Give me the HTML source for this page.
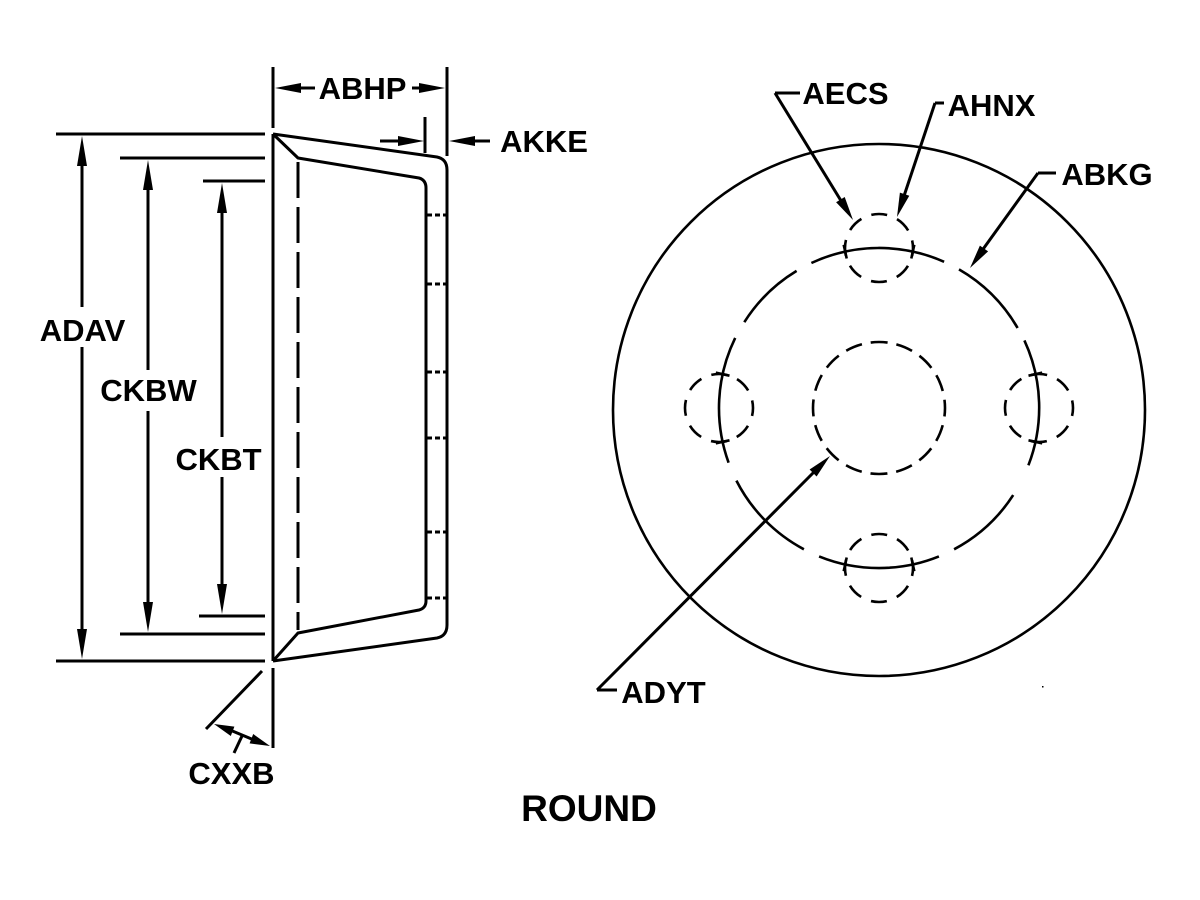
<!DOCTYPE html>
<html>
<head>
<meta charset="utf-8">
<style>
html,body{margin:0;padding:0;background:#fff;}
svg{display:block;}
text{font-family:"Liberation Sans",Arial,sans-serif;font-weight:bold;fill:#000;}
</style>
</head>
<body>
<svg width="1200" height="900" viewBox="0 0 1200 900" xmlns="http://www.w3.org/2000/svg">
<rect width="1200" height="900" fill="#fff"/>

<!-- ============ LEFT VIEW ============ -->
<g stroke="#000" stroke-width="3" fill="none" stroke-linejoin="round">
  <line x1="56" y1="134" x2="265" y2="134"/>
  <line x1="56" y1="661" x2="265" y2="661"/>
  <line x1="120" y1="158" x2="265" y2="158"/>
  <line x1="120" y1="634" x2="265" y2="634"/>
  <line x1="203" y1="181" x2="265" y2="181"/>
  <line x1="199" y1="616" x2="265" y2="616"/>

  <line x1="82" y1="160" x2="82" y2="307"/>
  <line x1="82" y1="347" x2="82" y2="635"/>
  <line x1="148" y1="184" x2="148" y2="370"/>
  <line x1="148" y1="411" x2="148" y2="608"/>
  <line x1="222" y1="207" x2="222" y2="437"/>
  <line x1="222" y1="477" x2="222" y2="590"/>

  <line x1="273" y1="67" x2="273" y2="128"/>
  <line x1="273" y1="668" x2="273" y2="748"/>
  <line x1="447" y1="67" x2="447" y2="156"/>
  <line x1="425" y1="117" x2="425" y2="153"/>

  <path d="M273,134 L273,661 M273,134 L437,157 Q447,159 447,170 L447,625 Q447,636 437,638 L273,661"/>
  <path d="M273,134 L298,158 L419,178 Q426,180 426,188 L426,601 Q426,608 419,610 L298,633 L273,661"/>
  <line x1="298" y1="162" x2="298" y2="630" stroke-dasharray="36 9"/>
  <g stroke-dasharray="5 3">
    <line x1="427" y1="215" x2="447" y2="215"/>
    <line x1="427" y1="284" x2="447" y2="284"/>
    <line x1="427" y1="372" x2="447" y2="372"/>
    <line x1="427" y1="438" x2="447" y2="438"/>
    <line x1="427" y1="532" x2="447" y2="532"/>
    <line x1="427" y1="598" x2="447" y2="598"/>
  </g>

  <line x1="290" y1="88" x2="315" y2="88"/>
  <line x1="412" y1="88" x2="430" y2="88"/>
  <line x1="380" y1="141" x2="410" y2="141"/>
  <line x1="462" y1="141" x2="490" y2="141"/>

  <line x1="262" y1="671" x2="206" y2="729"/>
  <line x1="230" y1="730" x2="254" y2="740"/>
  <line x1="242" y1="736" x2="234" y2="753"/>
</g>

<g fill="#000" stroke="none">
  <polygon points="82,136 77,166 87,166"/>
  <polygon points="82,659 77,629 87,629"/>
  <polygon points="148,160 143,190 153,190"/>
  <polygon points="148,632 143,602 153,602"/>
  <polygon points="222,183 217,213 227,213"/>
  <polygon points="222,614 217,584 227,584"/>
  <polygon points="275,88 301,83 301,93"/>
  <polygon points="445,88 419,83 419,93"/>
  <polygon points="424,141 398,136 398,146"/>
  <polygon points="449,141 475,136 475,146"/>
  <polygon points="270,746 249.6,743.4 253.2,734"/>
  <polygon points="214,724 230.8,736 234.4,726.6"/>
</g>

<text x="82.5" y="341" font-size="31" text-anchor="middle">ADAV</text>
<text x="148.5" y="401" font-size="31" text-anchor="middle">CKBW</text>
<text x="218.5" y="470" font-size="31" text-anchor="middle">CKBT</text>
<text x="362.5" y="99" font-size="31" text-anchor="middle">ABHP</text>
<text x="544" y="152" font-size="31" text-anchor="middle">AKKE</text>
<text x="231.5" y="784" font-size="31" text-anchor="middle">CXXB</text>

<!-- ============ RIGHT VIEW ============ -->
<g stroke="#000" fill="none" stroke-width="2.6">
  <circle cx="879" cy="410" r="266"/>
  <!-- bolt circle, long dashes: center (879,408) r=160 -->
  <path d="M1028.4,465.3 A160 160 0 0 0 1024.4,340.4"/>
  <path d="M1017.6,328 A160 160 0 0 0 959,269.4"/>
  <path d="M944.1,261.8 A160 160 0 0 0 811.4,263"/>
  <path d="M796.6,270.9 A160 160 0 0 0 744.3,322.2"/>
  <path d="M735.2,337.9 A160 160 0 0 0 728.6,462.7"/>
  <path d="M736.4,480.6 A160 160 0 0 0 803.9,549.3"/>
  <path d="M819.1,556.4 A160 160 0 0 0 938.9,556.4"/>
  <path d="M954.1,549.3 A160 160 0 0 0 1013.2,495.1"/>
  <!-- ticks -->
  <line x1="911.3" y1="258.5" x2="914.3" y2="244.8"/>
  <line x1="846.7" y1="258.5" x2="843.7" y2="244.8"/>
  <line x1="911.3" y1="557.5" x2="914.3" y2="571.2"/>
  <line x1="846.7" y1="557.5" x2="843.7" y2="571.2"/>
  <line x1="729.5" y1="375.7" x2="715.8" y2="372.7"/>
  <line x1="729.5" y1="440.3" x2="715.8" y2="443.3"/>
  <line x1="1028.5" y1="375.7" x2="1042.2" y2="372.7"/>
  <line x1="1028.5" y1="440.3" x2="1042.2" y2="443.3"/>
  <g stroke-dasharray="16 10.7" stroke-dashoffset="8">
    <circle cx="879" cy="248" r="34"/>
    <circle cx="879" cy="568" r="34"/>
    <circle cx="719" cy="408" r="34"/>
    <circle cx="1039" cy="408" r="34"/>
  </g>
  <circle cx="879" cy="408" r="66" stroke-dasharray="17 8.92" stroke-dashoffset="8.5"/>
</g>

<g stroke="#000" stroke-width="3" fill="none">
  <line x1="775" y1="93" x2="800" y2="93"/>
  <line x1="775" y1="93" x2="843" y2="204"/>
  <line x1="935" y1="103" x2="944" y2="103"/>
  <line x1="935" y1="103" x2="903" y2="199"/>
  <line x1="1038" y1="173" x2="1056" y2="173"/>
  <line x1="1038" y1="173" x2="981" y2="252"/>
  <line x1="597" y1="690" x2="617" y2="690"/>
  <line x1="597" y1="690" x2="815" y2="471"/>
</g>
<g fill="#000" stroke="none">
  <polygon points="853,220 836.1,202.2 844.7,197"/>
  <polygon points="897,217 899.9,192.6 909.3,195.8"/>
  <polygon points="970,268 979.9,245.6 988.1,251.4"/>
  <polygon points="830,456 816.6,476.5 809.6,469.5"/>
  <rect x="1042" y="686" width="1.5" height="1.5"/>
</g>

<text x="845.5" y="104" font-size="31" text-anchor="middle">AECS</text>
<text x="991.5" y="116" font-size="31" text-anchor="middle">AHNX</text>
<text x="1107" y="185" font-size="31" text-anchor="middle">ABKG</text>
<text x="663.5" y="703" font-size="31" text-anchor="middle">ADYT</text>

<text x="589" y="821" font-size="37" text-anchor="middle">ROUND</text>
</svg>
</body>
</html>
